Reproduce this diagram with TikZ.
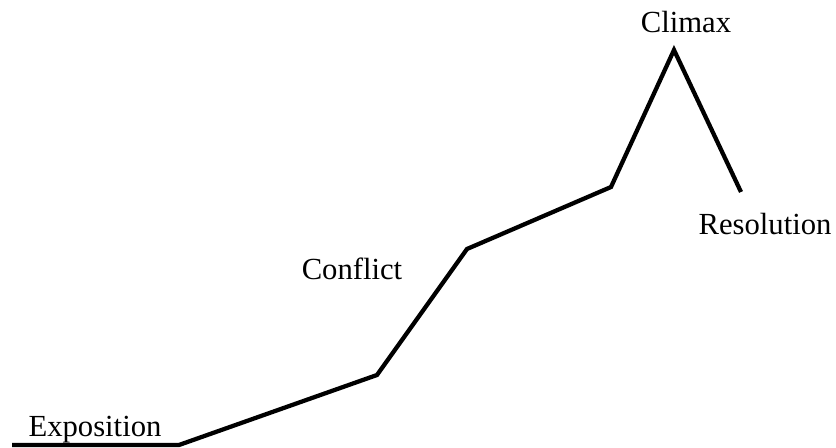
\documentclass[tikz,border=0pt]{standalone}
\usepackage{fontspec}
\setmainfont{Liberation Serif}
\usepackage{tikz}
\usetikzlibrary{positioning}

\begin{document}
\begin{tikzpicture}[x=0.75pt,y=-0.75pt,line join=miter,
    plotline/.style={line width=3.2pt},
    stage/.style={anchor=base,inner sep=0pt,font=\fontsize{23}{27}\selectfont}]
       \useasboundingbox (0,0) rectangle (836,448);
       \coordinate (s0) at (12,445);
       \coordinate (s1) at (179,445);
       \coordinate (s2) at (377,375);
       \coordinate (s3) at (467,249);
       \coordinate (s4) at (611,187);
       \coordinate (s5) at (674,50);
       \coordinate (s6) at (741,192);

       \node[stage] (expo) at (95,437) {Exposition};
       \node[stage] (conf) at (352,280) {Conflict};
       \node[stage] (clim) at (686,33) {Climax};
       \node[stage] (reso) at (765,235) {Resolution};

       \draw[plotline] (s0) -- (s1) -- (s2) -- (s3) -- (s4) -- (s5) -- (s6);
    \end{tikzpicture}
\end{document}
